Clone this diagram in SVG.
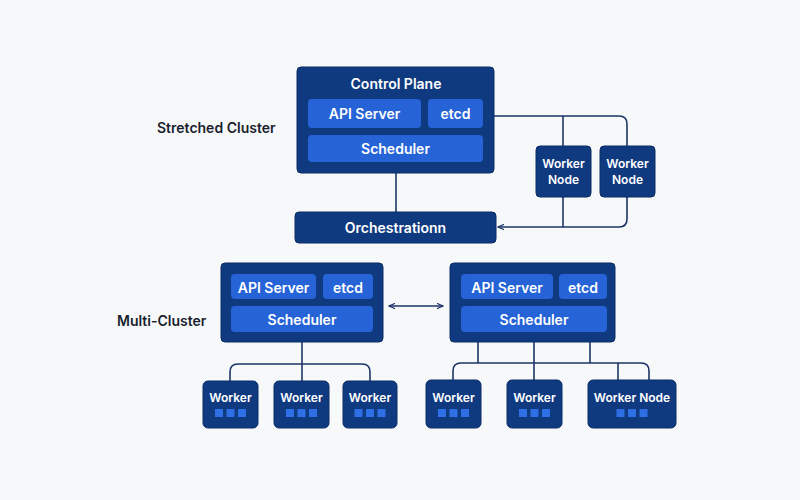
<svg xmlns="http://www.w3.org/2000/svg" width="800" height="500" viewBox="0 0 800 500">
<defs>
<style>
.bg{fill:#f7f8fa}
.dark{fill:#0f3a80;stroke:#0a2d66;stroke-width:1}
.inner{fill:#2563d6}
.t{font-family:Inter,"Liberation Sans",sans-serif;font-weight:600;fill:#fff;text-anchor:middle;dominant-baseline:central}
.lbl{font-family:Inter,"Liberation Sans",sans-serif;font-weight:600;fill:#1a1f2e;font-size:14px;dominant-baseline:central}
.c{fill:none;stroke:#1d3566;stroke-width:1.6}
.sq{fill:#2f6fe6}
</style>
<marker id="ah" viewBox="0 0 10 10" refX="9" refY="5" markerWidth="7" markerHeight="7" orient="auto-start-reverse" markerUnits="userSpaceOnUse">
<path d="M0,1 L9,5 L0,9" fill="none" stroke="#1d3566" stroke-width="1.6"/>
</marker>
</defs>
<rect class="bg" x="0" y="0" width="800" height="500"/>

<text class="lbl" x="157" y="127">Stretched Cluster</text>
<text class="lbl" x="117" y="320">Multi-Cluster</text>

<g id="connectors">
<path class="c" d="M396,173 V212"/>
<path class="c" d="M494,116 H619 Q627,116 627,124 V219 Q627,227 619,227 H498" marker-end="url(#ah)"/>
<path class="c" d="M563,116 V146"/>
<path class="c" d="M563,197 V227"/>
<path class="c" d="M389,306 H443" marker-start="url(#ah)" marker-end="url(#ah)"/>
<path class="c" d="M302,342 V364"/>
<path class="c" d="M230,381 V372 Q230,364 238,364 H362 Q370,364 370,372 V381"/>
<path class="c" d="M302,364 V381"/>
<path class="c" d="M478,342 V363 M534,342 V380 M590,342 V363"/>
<path class="c" d="M453,380 V371 Q453,363 461,363 H641 Q649,363 649,371 V380"/>
<path class="c" d="M618,363 V380"/>
</g>

<g id="control-plane">
<rect class="dark" x="297" y="67" width="197" height="106" rx="4"/>
<text class="t" x="396" y="83" font-size="14">Control Plane</text>
</g>
<g id="cp-api">
<rect class="inner" x="308" y="99" width="113" height="29" rx="4"/>
<text class="t" x="364.5" y="113.5" font-size="14">API Server</text>
</g>
<g id="cp-etcd">
<rect class="inner" x="428" y="99" width="55" height="29" rx="4"/>
<text class="t" x="455.5" y="113.5" font-size="14">etcd</text>
</g>
<g id="cp-scheduler">
<rect class="inner" x="308" y="135" width="175" height="27" rx="4"/>
<text class="t" x="395.5" y="148.5" font-size="14">Scheduler</text>
</g>
<g id="orchestration">
<rect class="dark" x="295" y="212" width="201" height="31" rx="4"/>
<text class="t" x="395.5" y="227.5" font-size="14">Orchestrationn</text>
</g>
<g id="worker-node-a">
<rect class="dark" x="536" y="146" width="55" height="51" rx="4"/>
<text class="t" x="563.5" y="163" font-size="12">Worker</text>
<text class="t" x="563.5" y="179" font-size="12">Node</text>
</g>
<g id="worker-node-b">
<rect class="dark" x="600" y="146" width="55" height="51" rx="4"/>
<text class="t" x="627.5" y="163" font-size="12">Worker</text>
<text class="t" x="627.5" y="179" font-size="12">Node</text>
</g>

<g id="cluster-left">
<rect class="dark" x="221" y="263" width="162" height="79" rx="4"/>
</g>
<g id="left-api">
<rect class="inner" x="231" y="274" width="85" height="25" rx="4"/>
<text class="t" x="273.5" y="287" font-size="14">API Server</text>
</g>
<g id="left-etcd">
<rect class="inner" x="323" y="274" width="50" height="25" rx="4"/>
<text class="t" x="348" y="287" font-size="14">etcd</text>
</g>
<g id="left-scheduler">
<rect class="inner" x="231" y="306" width="142" height="26" rx="4"/>
<text class="t" x="302" y="319" font-size="14">Scheduler</text>
</g>

<g id="cluster-right">
<rect class="dark" x="450" y="263" width="165" height="79" rx="4"/>
</g>
<g id="right-api">
<rect class="inner" x="461" y="274" width="92" height="25" rx="4"/>
<text class="t" x="507" y="287" font-size="14">API Server</text>
</g>
<g id="right-etcd">
<rect class="inner" x="559" y="274" width="48" height="25" rx="4"/>
<text class="t" x="583" y="287" font-size="14">etcd</text>
</g>
<g id="right-scheduler">
<rect class="inner" x="461" y="306" width="146" height="26" rx="4"/>
<text class="t" x="534" y="319" font-size="14">Scheduler</text>
</g>

<g id="worker-1">
<rect class="dark" x="203" y="381" width="55" height="47" rx="5"/>
<text class="t" x="230.5" y="397.5" font-size="12">Worker</text>
<rect class="sq" x="215" y="409" width="8" height="8"/>
<rect class="sq" x="226.5" y="409" width="8" height="8"/>
<rect class="sq" x="238" y="409" width="8" height="8"/>
</g>
<g id="worker-2">
<rect class="dark" x="274" y="381" width="55" height="47" rx="5"/>
<text class="t" x="301.5" y="397.5" font-size="12">Worker</text>
<rect class="sq" x="286" y="409" width="8" height="8"/>
<rect class="sq" x="297.5" y="409" width="8" height="8"/>
<rect class="sq" x="309" y="409" width="8" height="8"/>
</g>
<g id="worker-3">
<rect class="dark" x="343" y="381" width="54" height="47" rx="5"/>
<text class="t" x="370" y="397.5" font-size="12">Worker</text>
<rect class="sq" x="354.5" y="409" width="8" height="8"/>
<rect class="sq" x="366" y="409" width="8" height="8"/>
<rect class="sq" x="377.5" y="409" width="8" height="8"/>
</g>
<g id="worker-4">
<rect class="dark" x="426" y="380" width="55" height="48" rx="5"/>
<text class="t" x="453.5" y="397.5" font-size="12">Worker</text>
<rect class="sq" x="438" y="409" width="8" height="8"/>
<rect class="sq" x="449.5" y="409" width="8" height="8"/>
<rect class="sq" x="461" y="409" width="8" height="8"/>
</g>
<g id="worker-5">
<rect class="dark" x="507" y="380" width="55" height="48" rx="5"/>
<text class="t" x="534.5" y="397.5" font-size="12">Worker</text>
<rect class="sq" x="519" y="409" width="8" height="8"/>
<rect class="sq" x="530.5" y="409" width="8" height="8"/>
<rect class="sq" x="542" y="409" width="8" height="8"/>
</g>
<g id="worker-6">
<rect class="dark" x="588" y="380" width="88" height="48" rx="5"/>
<text class="t" x="632" y="397.5" font-size="12">Worker Node</text>
<rect class="sq" x="616.5" y="409" width="8" height="8"/>
<rect class="sq" x="628" y="409" width="8" height="8"/>
<rect class="sq" x="639.5" y="409" width="8" height="8"/>
</g>
</svg>
